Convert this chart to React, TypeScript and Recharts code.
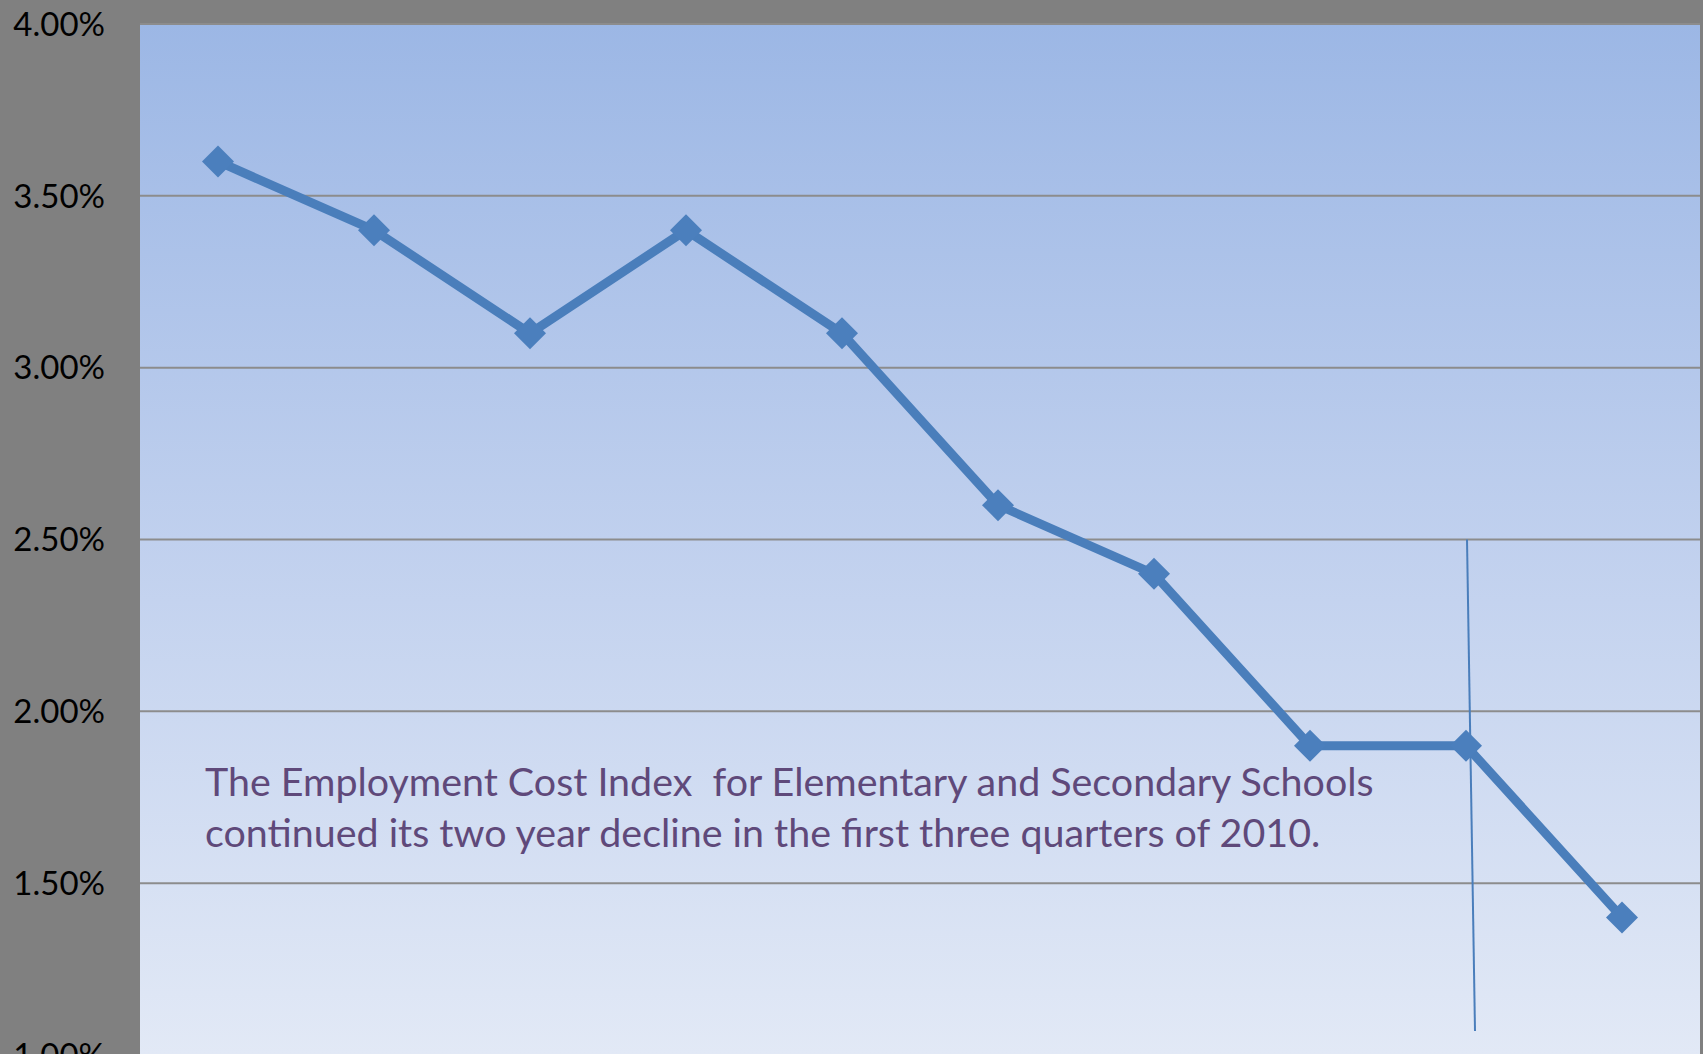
import { LineChart, Line, XAxis, YAxis, CartesianGrid, ReferenceLine } from "recharts";

const quarters = [
	"Q2 2008",
	"Q3 2008",
	"Q4 2008",
	"Q1 2009",
	"Q2 2009",
	"Q3 2009",
	"Q4 2009",
	"Q1 2010",
	"Q2 2010",
	"Q3 2010",
];
const eciChange = [3.6, 3.4, 3.1, 3.4, 3.1, 2.6, 2.4, 1.9, 1.9, 1.4];
const yTicks = [1, 1.5, 2, 2.5, 3, 3.5, 4];
const noteLines = [
	"The Employment Cost Index  for Elementary and Secondary Schools",
	"continued its two year decline in the first three quarters of 2010.",
];
// thin hand-drawn marker line near the Q2 2010 point
const markerQuarter = quarters[8];
const markerTop = 2.5;
const markerBottom = 1.07;

const data = quarters.map((q, i) => ({ quarter: q, eci: eciChange[i] }));

const BLUE = "#4A7EBB";

const Diamond = (props: any) => {
	const { cx, cy, index } = props;
	if (cx == null || cy == null) return null;
	const r = 16;
	return (
		<polygon
			key={"d" + index}
			points={`${cx},${cy - r} ${cx + r},${cy} ${cx},${cy + r} ${cx - r},${cy}`}
			fill="#4B7FBD"
		/>
	);
};

// the drawn line leans slightly to the right at its foot
const SlantLine = (props: any) => {
	const { x1, y1, x2, y2 } = props;
	return <line x1={x1 + 1} y1={y1} x2={x2 + 9} y2={y2} stroke={BLUE} strokeWidth={2} />;
};

export default function App() {
	return (
		<div
			style={{
				position: "fixed",
				left: 0,
				top: 0,
				width: 1703,
				height: 1054,
				overflow: "hidden",
				background: "#808080",
				fontFamily: "Lato, sans-serif",
			}}
		>
			<LineChart
				width={1703}
				height={1130}
				data={data}
				margin={{ top: 24, right: 3, left: 0, bottom: 15 }}
			>
				<defs>
					<linearGradient id="plotBg" x1="0" y1="0" x2="0" y2="1">
						<stop offset="0%" stopColor="#9CB7E5" />
						<stop offset="50%" stopColor="#C0D0EE" />
						<stop offset="100%" stopColor="#E2E9F6" />
					</linearGradient>
				</defs>
				<CartesianGrid
					vertical={false}
					fill="url(#plotBg)"
					fillOpacity={1}
					stroke="#8C8C8C"
					strokeWidth={2}
				/>
				<XAxis
					dataKey="quarter"
					height={60}
					padding={{ left: 78, right: 78 }}
					axisLine={false}
					tickLine={false}
					tick={false}
				/>
				<YAxis
					width={140}
					domain={[1, 4]}
					ticks={yTicks}
					interval={0}
					axisLine={false}
					tickLine={false}
					tickSize={0}
					tickMargin={35}
					tickFormatter={(v: number) => v.toFixed(2) + "%"}
					tick={{ fill: "#000", fontSize: 33, fontFamily: "Lato, sans-serif" }}
				/>
				<ReferenceLine
					segment={[
						{ x: markerQuarter, y: markerTop },
						{ x: markerQuarter, y: markerBottom },
					]}
					shape={SlantLine}
				/>
				<Line
					type="linear"
					dataKey="eci"
					stroke={BLUE}
					strokeWidth={9}
					dot={Diamond}
					activeDot={false}
					isAnimationActive={false}
				/>
			</LineChart>
			<div
				style={{
					position: "absolute",
					left: 205,
					top: 755,
					fontSize: 39.4,
					lineHeight: "51px",
					color: "#5F497A",
					whiteSpace: "pre",
				}}
			>
				{noteLines.map((t) => (
					<div key={t}>{t}</div>
				))}
			</div>
		</div>
	);
}
